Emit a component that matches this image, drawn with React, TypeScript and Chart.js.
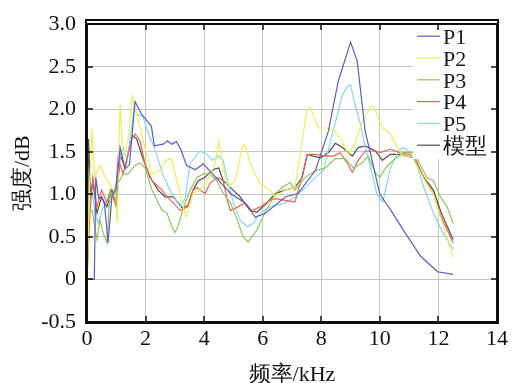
import React, { useEffect, useRef } from 'react';
import { Chart, registerables } from 'chart.js';

Chart.register(...registerables);

// ---- data (frequency kHz, intensity dB) ----
const seriesNames = ['P1', 'P2', 'P3', 'P4', 'P5', '模型'];
const seriesColors = ['#5c5cc6', '#eeee5a', '#8cc85a', '#f06452', '#86d8ee', '#4e4e4e'];

const p1 = [[0,0],[0.25,0],[0.3,1.2],[0.4,0.95],[0.5,0.97],[0.6,0.88],[0.72,0.43],[0.85,0.97],[1.0,1.08],[1.13,1.55],[1.3,1.3],[1.45,1.35],[1.64,2.09],[1.85,1.95],[2.2,1.8],[2.3,1.57],[2.6,1.59],[2.75,1.63],[2.9,1.59],[3.05,1.62],[3.2,1.53],[3.4,1.34],[3.7,1.29],[3.97,1.36],[4.4,1.2],[4.9,1.01],[5.4,0.9],[5.75,0.73],[6.1,0.78],[6.77,0.97],[7.2,1.01],[7.8,1.28],[8.24,1.74],[8.58,2.33],[9.0,2.79],[9.23,2.56],[9.5,1.74],[9.7,1.45],[10.0,1.0],[10.4,0.8],[10.8,0.58],[11.4,0.27],[11.97,0.09],[12.5,0.06]];
const p2 = [[0,0],[0.1,1.2],[0.17,1.77],[0.27,1.2],[0.44,1.34],[0.62,1.2],[0.85,1.08],[0.98,1.0],[1.03,0.66],[1.13,2.07],[1.23,1.43],[1.4,1.63],[1.54,2.15],[1.7,1.94],[1.9,1.66],[2.2,1.24],[2.5,1.28],[2.7,1.4],[2.88,1.42],[3.07,1.16],[3.25,0.9],[3.38,0.73],[3.62,1.01],[3.86,1.05],[4.1,1.16],[4.38,1.36],[4.5,1.63],[4.65,1.31],[4.8,1.08],[5.06,1.16],[5.3,1.55],[5.37,1.59],[5.64,1.31],[5.9,1.13],[6.25,1.05],[6.43,0.97],[6.77,1.05],[7.1,1.08],[7.35,1.63],[7.5,1.98],[7.62,2.02],[7.9,1.78],[8.24,1.78],[8.48,1.74],[8.7,1.63],[8.92,1.47],[9.15,1.59],[9.4,1.86],[9.68,2.03],[9.8,2.03],[10.1,1.78],[10.36,1.71],[10.6,1.55],[10.8,1.45],[11.1,1.45],[11.5,1.18],[11.83,1.0],[12.1,0.7],[12.5,0.26]];
const p3 = [[0,0],[0.06,0.8],[0.17,0.81],[0.34,0.47],[0.44,0.7],[0.55,0.55],[0.68,0.43],[0.79,1.05],[0.89,0.97],[1.06,1.13],[1.23,1.24],[1.4,1.24],[1.64,1.34],[1.81,1.37],[1.98,1.31],[2.22,1.05],[2.56,0.81],[2.73,0.78],[2.9,0.62],[3.0,0.55],[3.1,0.62],[3.3,0.85],[3.52,1.05],[3.76,1.2],[3.97,1.24],[4.2,1.24],[4.44,1.16],[4.65,1.01],[4.9,0.9],[5.13,0.7],[5.33,0.5],[5.5,0.44],[5.8,0.58],[6.08,0.79],[6.43,1.01],[6.66,1.08],[6.94,1.14],[7.1,1.05],[7.45,1.2],[7.8,1.28],[8.14,1.31],[8.48,1.42],[8.82,1.42],[9.1,1.31],[9.4,1.37],[9.6,1.45],[9.85,1.25],[10.0,1.2],[10.2,1.31],[10.45,1.4],[10.8,1.49],[11.15,1.49],[11.3,1.4],[11.6,1.2],[11.83,1.16],[12.07,0.97],[12.3,0.85],[12.5,0.66]];
const p4 = [[0,0],[0.1,0.78],[0.2,1.2],[0.34,0.85],[0.5,1.05],[0.68,0.9],[0.79,1.05],[0.96,0.9],[1.06,1.43],[1.23,1.24],[1.37,1.43],[1.54,1.66],[1.64,1.71],[1.81,1.63],[1.98,1.36],[2.22,1.16],[2.56,1.05],[2.73,0.97],[2.95,0.9],[3.18,0.81],[3.42,0.85],[3.62,1.05],[3.76,1.08],[3.86,1.05],[4.03,1.01],[4.2,1.13],[4.44,1.2],[4.65,1.16],[4.79,0.93],[4.9,0.81],[5.13,0.85],[5.4,0.9],[5.64,0.81],[5.9,0.85],[6.25,0.93],[6.43,0.95],[6.77,0.93],[7.1,0.91],[7.28,1.13],[7.52,1.47],[7.8,1.47],[8.14,1.45],[8.4,1.45],[8.65,1.49],[8.9,1.36],[9.06,1.26],[9.26,1.4],[9.5,1.51],[9.85,1.51],[10.0,1.49],[10.36,1.53],[10.7,1.49],[11.0,1.47],[11.2,1.43],[11.5,1.2],[11.83,1.01],[12.1,0.73],[12.5,0.43]];
const p5 = [[0,0],[0.1,1.0],[0.17,1.05],[0.27,0.78],[0.38,0.66],[0.55,0.85],[0.72,0.85],[0.96,1.08],[1.13,1.43],[1.23,1.55],[1.37,1.4],[1.54,1.83],[1.61,2.03],[1.7,1.94],[1.9,1.92],[2.1,1.71],[2.3,1.55],[2.6,1.22],[2.84,1.05],[3.18,0.85],[3.35,0.95],[3.52,1.36],[3.86,1.51],[4.1,1.47],[4.27,1.4],[4.48,1.45],[4.65,1.4],[4.8,1.16],[5.0,0.9],[5.23,0.7],[5.47,0.62],[5.68,0.66],[5.9,0.78],[6.25,0.85],[6.77,0.9],[7.1,0.97],[7.45,1.08],[7.8,1.2],[8.07,1.28],[8.38,1.71],[8.55,1.94],[8.72,2.17],[8.9,2.27],[9.0,2.29],[9.1,2.13],[9.33,1.83],[9.5,1.55],[9.74,1.24],[9.9,1.0],[10.1,0.91],[10.36,1.31],[10.63,1.51],[10.8,1.55],[11.04,1.49],[11.3,1.31],[11.5,1.08],[11.83,0.78],[12.1,0.58],[12.5,0.35]];
const model = [[0,0],[0.05,1.65],[0.12,1.0],[0.2,1.16],[0.34,0.78],[0.5,0.97],[0.68,0.85],[0.85,1.05],[1.0,0.85],[1.13,1.47],[1.3,1.31],[1.47,1.59],[1.57,1.69],[1.7,1.65],[1.9,1.43],[2.15,1.2],[2.43,1.05],[2.67,0.97],[2.95,0.97],[3.25,0.84],[3.45,0.87],[3.62,1.05],[3.8,1.16],[4.03,1.2],[4.2,1.26],[4.38,1.3],[4.5,1.31],[4.65,1.16],[4.9,1.08],[5.23,0.97],[5.57,0.81],[5.8,0.79],[6.15,0.9],[6.43,1.01],[6.77,1.05],[7.1,1.08],[7.35,1.2],[7.52,1.47],[7.73,1.45],[7.97,1.43],[8.24,1.49],[8.48,1.6],[8.72,1.55],[9.06,1.45],[9.26,1.55],[9.5,1.57],[9.85,1.51],[10.08,1.4],[10.36,1.47],[10.7,1.47],[11.15,1.43],[11.5,1.2],[11.83,1.05],[12.1,0.78],[12.5,0.47]];

const seriesData = [p1, p2, p3, p4, p5, model];

const xTickValues = [0, 2, 4, 6, 8, 10, 12, 14];
const xTickLabels = ['0', '2', '4', '6', '8', '10', '12', '14'];
const yTickValues = [-0.5, 0, 0.5, 1.0, 1.5, 2.0, 2.5, 3.0];
const yTickLabels = ['-0.5', '0', '0.5', '1.0', '1.5', '2.0', '2.5', '3.0'];
const xTitle = '频率/kHz';
const yTitle = '强度/dB';

const FONT = 'Liberation Serif, Times New Roman, DejaVu Serif, serif';
const INK = '#101010';

const legendPlugin = {
  id: 'insideLegend',
  afterDatasetsDraw(chart: any) {
    const ctx = chart.ctx;
    const a = chart.chartArea;
    ctx.save();
    ctx.fillStyle = '#ffffff';
    ctx.fillRect(413, a.top + 1, a.right - 414, 134);
    ctx.font = '22px ' + FONT;
    ctx.textBaseline = 'middle';
    ctx.textAlign = 'left';
    chart.data.datasets.forEach((ds: any, i: number) => {
      const y = a.top + 12 + i * 21.8;
      ctx.strokeStyle = ds.borderColor;
      ctx.lineWidth = 1.2;
      ctx.beginPath();
      ctx.moveTo(417, y);
      ctx.lineTo(440, y);
      ctx.stroke();
      ctx.fillStyle = '#1a1a1a';
      ctx.fillText(ds.label, 443, y + 2);
    });
    ctx.restore();
  },
};

const framePlugin = {
  id: 'plotFrame',
  afterDraw(chart: any) {
    const ctx = chart.ctx;
    const a = chart.chartArea;
    const sx = chart.scales.x;
    const sy = chart.scales.y;
    const L = Math.round(a.left), R = Math.round(a.right), T = Math.round(a.top), B = Math.round(a.bottom);
    ctx.save();
    ctx.fillStyle = INK;
    ctx.fillRect(L - 1, T - 1, R - L + 2, 2);
    ctx.fillRect(L - 1, B - 1, R - L + 2, 2);
    ctx.fillRect(L - 1, T - 1, 2, B - T + 2);
    ctx.fillRect(R - 1, T - 1, 2, B - T + 2);
    xTickValues.forEach((v) => {
      const px = Math.round(sx.getPixelForValue(v));
      ctx.fillRect(px - 0.75, B - 6, 1.5, 6);
      ctx.fillRect(px - 0.75, T, 1.5, 6);
    });
    yTickValues.forEach((v) => {
      const py = Math.round(sy.getPixelForValue(v));
      ctx.fillRect(L, py - 0.75, 6, 1.5);
      ctx.fillRect(R - 6, py - 0.75, 6, 1.5);
    });
    ctx.restore();
  },
};

export default function App() {
  const ref = useRef<HTMLCanvasElement | null>(null);
  useEffect(() => {
    if (!ref.current) return;
    const chart = new Chart(ref.current, {
      type: 'line',
      data: {
        datasets: seriesData.map((s, i) => ({
          label: seriesNames[i],
          data: s.map(([x, y]) => ({ x, y })),
          borderColor: seriesColors[i],
          borderWidth: 1.2,
          pointRadius: 0,
        })),
      },
      options: {
        animation: false,
        responsive: false,
        devicePixelRatio: 1,
        layout: { padding: { left: 0, top: 21, right: 17, bottom: 0 } },
        plugins: { legend: { display: false }, tooltip: { enabled: false } },
        scales: {
          x: {
            type: 'linear', position: 'bottom', min: 0, max: 14,
            afterFit: (s: any) => { s.height = 61; },
            afterBuildTicks: (s: any) => { s.ticks = xTickValues.map((v) => ({ value: v })); },
            ticks: { autoSkip: false, maxRotation: 0, padding: 4, color: '#111', font: { family: FONT, size: 22 }, callback: (_v: any, i: number) => xTickLabels[i] },
            grid: { color: '#c6c6c6', drawTicks: false },
            border: { display: true, color: INK, width: 2 },
            title: { display: true, text: xTitle, color: '#111', font: { family: FONT, size: 22 }, padding: { top: 0, bottom: -5 } },
          },
          y: {
            type: 'linear', position: 'left', min: -0.5, max: 3.0,
            afterFit: (s: any) => { s.width = 87; },
            afterBuildTicks: (s: any) => { s.ticks = yTickValues.map((v) => ({ value: v })); },
            ticks: { autoSkip: false, padding: 11, color: '#111', font: { family: FONT, size: 22 }, callback: (_v: any, i: number) => yTickLabels[i] },
            grid: { color: '#c6c6c6', drawTicks: false },
            border: { display: true, color: INK, width: 2 },
            title: { display: true, text: yTitle, color: '#111', font: { family: FONT, size: 22 }, padding: { top: 10, bottom: 0 } },
          },
        },
      },
      plugins: [legendPlugin, framePlugin],
    } as any);
    return () => chart.destroy();
  }, []);
  return (
    <div style={{ position: 'fixed', left: 0, top: 0, width: 514, height: 383 }}>
      <canvas ref={ref} width={514} height={383} style={{ display: 'block' }} />
      <div
        style={{
          position: 'absolute',
          left: 86,
          top: 20,
          width: 410,
          height: 301,
          border: '2px solid ' + INK,
          boxSizing: 'content-box',
          pointerEvents: 'none',
          marginLeft: -1,
          marginTop: -1,
        }}
      />
    </div>
  );
}
